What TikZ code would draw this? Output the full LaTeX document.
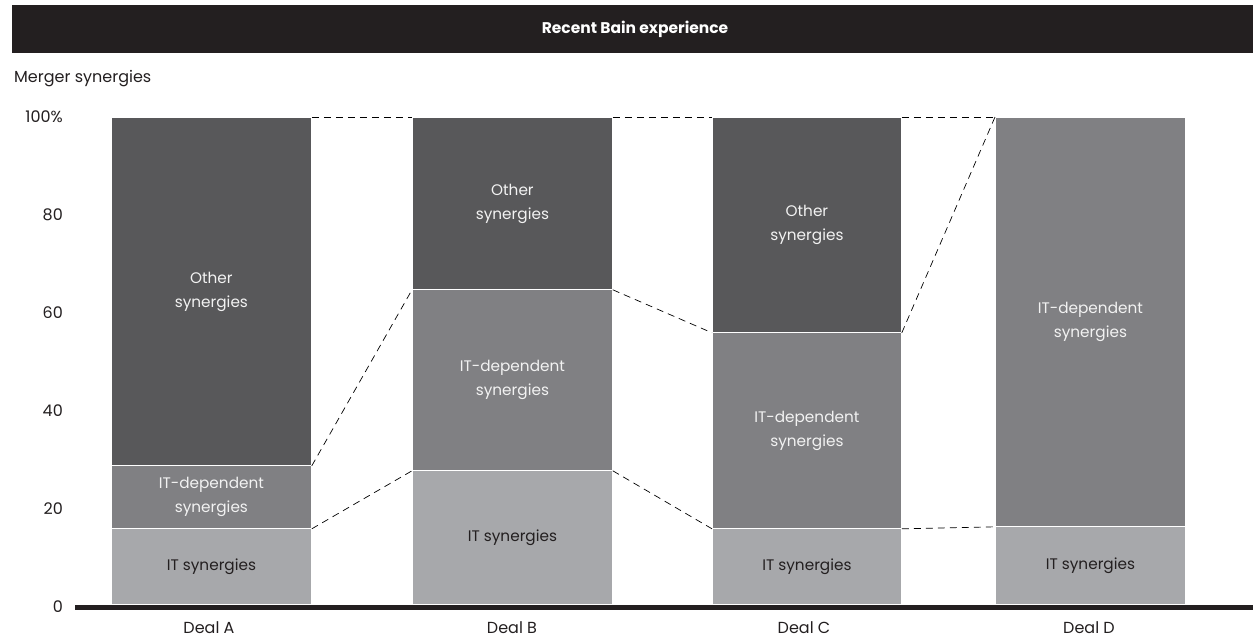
\documentclass[tikz,border=0pt]{standalone}
\usepackage{fontspec}
\setmainfont{Poppins}
\definecolor{hdr}{HTML}{231F20}
\definecolor{oth}{HTML}{58585A}
\definecolor{itd}{HTML}{808083}
\definecolor{its}{HTML}{A7A8AB}
\definecolor{lbl}{HTML}{F2F2F2}
\begin{document}
\begin{tikzpicture}[x=1pt,y=-1pt,
  txt/.style={inner sep=0pt, text=hdr, font=\fontsize{16}{24}\selectfont},
  seg/.style={draw=white, line width=0.8pt, inner sep=0pt, anchor=north west, align=center,
              font=\fontsize{15.3}{24}\selectfont},
  othseg/.style={seg, fill=oth, text=lbl},
  itdseg/.style={seg, fill=itd, text=lbl},
  itsseg/.style={seg, fill=its, text=hdr},
  dashln/.style={draw=black, line width=0.7pt, dash pattern=on 7pt off 5pt}]
\useasboundingbox (0,0) rectangle (1253,638);
% header
\node[fill=hdr, minimum width=1241pt, minimum height=48pt, inner sep=0pt, anchor=north west,
      text=white, font=\fontsize{15.5}{18}\selectfont\bfseries] (hd) at (12,5) {};
\node[inner sep=0pt, text=white, font=\fontsize{15.5}{18}\selectfont\bfseries] (ht) at (635,29) {Recent Bain experience};
\node[txt, anchor=west] (ms) at (14,79) {Merger synergies};
% y labels
\node[txt, anchor=east] (y100) at (63,117) {100\%};
\node[txt, anchor=east] (y80) at (63,215) {80};
\node[txt, anchor=east] (y60) at (63,313) {60};
\node[txt, anchor=east] (y40) at (63,411) {40};
\node[txt, anchor=east] (y20) at (63,509) {20};
\node[txt, anchor=east] (y0) at (63,607) {0};
% Deal A
\node[othseg, minimum width=200pt, minimum height=348pt] (aO) at (111,117) {Other\\synergies};
\node[itdseg, minimum width=200pt, minimum height=63pt] (aD) at (111,465) {IT-dependent\\synergies};
\node[itsseg, minimum width=200pt, minimum height=76pt] (aI) at (111,528) {IT synergies};
% Deal B
\node[othseg, minimum width=200pt, minimum height=172pt] (bO) at (412,117) {Other\\synergies};
\node[itdseg, minimum width=200pt, minimum height=181pt] (bD) at (412,289) {IT-dependent\\synergies};
\node[itsseg, minimum width=200pt, minimum height=134pt] (bI) at (412,470) {IT synergies};
% Deal C
\node[othseg, minimum width=189pt, minimum height=215pt] (cO) at (712,117) {Other\\synergies};
\node[itdseg, minimum width=189pt, minimum height=196pt] (cD) at (712,332) {IT-dependent\\synergies};
\node[itsseg, minimum width=189pt, minimum height=76pt] (cI) at (712,528) {IT synergies};
% Deal D
\node[itdseg, minimum width=190pt, minimum height=409pt] (dD) at (995,117) {IT-dependent\\synergies};
\node[itsseg, minimum width=190pt, minimum height=78pt] (dI) at (995,526) {IT synergies};
% axis
\coordinate (ax0) at (75,607);
\coordinate (ax1) at (1253,607);
\draw[hdr, line width=5pt] (ax0) -- (ax1);
% deal labels
\node[txt] (la) at (209,628) {Deal A};
\node[txt] (lb) at (512,628) {Deal B};
\node[txt] (lc) at (804,628) {Deal C};
\node[txt] (ld) at (1089,628) {Deal D};
% dashed connectors
\draw[dashln] (aO.north east) -- (bO.north west);
\draw[dashln] (bO.north east) -- (cO.north west);
\draw[dashln] (cO.north east) -- (dD.north west);
\draw[dashln] (aO.south east) -- (bO.south west);
\draw[dashln] (aD.south east) -- (bD.south west);
\draw[dashln] (bO.south east) -- (cO.south west);
\draw[dashln] (bD.south east) -- (cD.south west);
\draw[dashln] (cO.south east) -- (dD.north west);
\draw[dashln] (cD.south east) -- (dD.south west);
\end{tikzpicture}
\end{document}
